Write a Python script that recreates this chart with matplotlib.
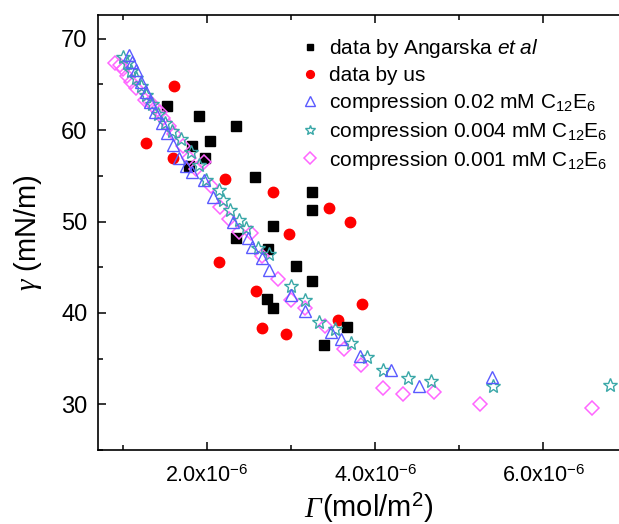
import numpy as np
import matplotlib
matplotlib.use("Agg")
import matplotlib.pyplot as plt
from matplotlib.ticker import MultipleLocator, FuncFormatter

plt.rcParams['font.family'] = ['Liberation Sans', 'DejaVu Sans']
plt.rcParams['mathtext.fontset'] = 'custom'
plt.rcParams['mathtext.rm'] = 'Liberation Sans'
plt.rcParams['mathtext.it'] = 'Liberation Serif:italic'
plt.rcParams['mathtext.sf'] = 'Liberation Sans:italic'

# ---- data (Gamma in units of 1e-6 mol/m^2, gamma in mN/m) ----
ang_x = [1.53, 1.90, 2.35, 2.03, 1.82, 1.98, 1.78, 2.57, 3.25, 3.25, 2.78, 2.35,
         2.73, 3.06, 3.25, 2.71, 2.79, 3.66, 3.39]
ang_y = [62.65, 61.6, 60.5, 58.8, 58.3, 57.0, 56.1, 54.9, 53.2, 51.25, 49.5, 48.2,
         47.0, 45.1, 43.5, 41.5, 40.5, 38.45, 36.45]

us_x = [1.61, 1.28, 1.59, 2.21, 2.78, 3.45, 3.70, 2.98, 2.14, 2.58, 3.84, 3.56, 2.65, 2.94]
us_y = [64.85, 58.55, 57.0, 54.7, 53.25, 51.45, 49.9, 48.6, 45.6, 42.4, 40.95, 39.2, 38.4, 37.7]

c02_x = [1.07, 1.11, 1.16, 1.22, 1.27, 1.32, 1.38, 1.46, 1.53, 1.60, 1.67, 1.75, 1.82,
         1.97, 2.07, 2.31, 2.49, 2.54, 2.65, 2.74, 3.00, 3.16, 3.47, 3.59, 3.82, 4.19,
         4.52, 5.39]
c02_y = [68.25, 67.5, 66.6, 65.3, 64.2, 63.1, 62.0, 60.75, 59.65, 58.4, 57.0, 56.1, 55.4,
         54.5, 52.7, 49.9, 48.15, 47.2, 46.0, 44.7, 42.0, 40.2, 37.9, 37.1, 35.25, 33.7,
         32.0, 33.0]

c004_x = [1.00, 1.05, 1.10, 1.15, 1.21, 1.28, 1.35, 1.42, 1.50, 1.58, 1.69, 1.81, 1.90,
          1.99, 2.14, 2.19, 2.27, 2.38, 2.46, 2.61, 2.74, 3.00, 3.17, 3.33, 3.52, 3.71,
          3.90, 4.09, 4.39, 4.67, 5.40, 6.79]
c004_y = [68.05, 67.3, 66.5, 65.7, 64.8, 63.9, 62.9, 61.8, 60.8, 59.9, 59.0, 57.65, 56.2,
          54.5, 53.4, 52.4, 51.25, 50.2, 49.25, 47.1, 46.4, 43.0, 41.4, 39.0, 38.2, 36.75,
          35.2, 33.8, 32.85, 32.5, 32.05, 32.1]

c001_x = [0.91, 0.96, 1.00, 1.05, 1.10, 1.16, 1.26, 1.32, 1.38, 1.44, 1.48, 1.55, 1.61,
          1.71, 1.79, 1.87, 1.96, 2.05, 2.16, 2.26, 2.38, 2.52, 2.66, 2.84, 3.00, 3.17,
          3.40, 3.63, 3.83, 4.09, 4.33, 4.70, 5.25, 6.58]
c001_y = [67.4, 67.15, 66.7, 65.95, 65.3, 64.6, 63.3, 63.1, 62.4, 62.0, 61.3, 60.4, 59.6,
          58.3, 56.9, 55.75, 56.5, 53.9, 51.55, 50.3, 48.9, 48.7, 46.25, 43.75, 41.4, 40.5,
          38.6, 36.0, 34.25, 31.8, 31.1, 31.3, 30.05, 29.6]

labels = ["data by Angarska $\\mathsf{et\\ al}$",
          "data by us",
          "compression 0.02 mM C$_{12}$E$_6$",
          "compression 0.004 mM C$_{12}$E$_6$",
          "compression 0.001 mM C$_{12}$E$_6$"]

scale = 1e-6

fig = plt.figure(figsize=(6.19, 5.24), dpi=100)
ax = fig.add_axes([97.7/619, 74/524, (627.4-97.7)/619, (450-15)/524])

ax.plot(np.array(c001_x)*scale, c001_y, linestyle='none', marker='D', ms=7.5,
        mfc='none', mec='#ff66ff', mew=1.1, label=labels[4], zorder=3)
ax.plot(np.array(c004_x)*scale, c004_y, linestyle='none', marker='*', ms=10,
        mfc='none', mec='#3aa8a8', mew=1.0, label=labels[3], zorder=4)
ax.plot(np.array(c02_x)*scale, c02_y, linestyle='none', marker='^', ms=9,
        mfc='none', mec='#5a5aff', mew=1.0, label=labels[2], zorder=5)
ax.plot(np.array(us_x)*scale, us_y, linestyle='none', marker='o', ms=7.5,
        mfc='#ff0000', mec='#ff0000', label=labels[1], zorder=2)
ax.plot(np.array(ang_x)*scale, ang_y, linestyle='none', marker='s', ms=6.5,
        mfc='black', mec='black', label=labels[0], zorder=2)

ax.set_xlim(0.7e-6, 7.0e-6)
ax.set_ylim(25, 72.6)
ax.xaxis.set_major_locator(MultipleLocator(2e-6))
ax.xaxis.set_minor_locator(MultipleLocator(1e-6))
ax.yaxis.set_major_locator(MultipleLocator(10))
ax.yaxis.set_minor_locator(MultipleLocator(5))

def xfmt(v, pos):
    return "%.1fx10$^{-6}$" % (v / 1e-6)
ax.xaxis.set_major_formatter(FuncFormatter(xfmt))

ax.tick_params(which='both', direction='in', top=True, right=True, width=1.1)
ax.tick_params(axis='y', labelsize=17, pad=7.5)
ax.tick_params(axis='x', labelsize=15.5, pad=11)
ax.tick_params(which='major', length=6)
ax.tick_params(which='minor', length=3.5)
for s in ax.spines.values():
    s.set_linewidth(1.2)

# y label
ax.set_ylabel("$\\mathit{\\gamma}$ (mN/m)", fontsize=21, labelpad=12)

# x label: italic Gamma + upright rest
fig.canvas.draw()
r = fig.canvas.get_renderer()
t1 = fig.text(0, 0, "\u0393", fontsize=21, family='Liberation Serif', style='italic',
              va='baseline', ha='left')
t2 = fig.text(0, 0, "(mol/m$^2$)", fontsize=21, va='baseline', ha='left')
w1 = t1.get_window_extent(r).width
w2 = t2.get_window_extent(r).width
cx = 368.0
x0 = cx - (w1 + w2) / 2
base_y = 524 - 517
t1.set_position((x0 / 619, base_y / 524))
t2.set_position(((x0 + w1 + 1) / 619, base_y / 524))

h, l = ax.get_legend_handles_labels()
order = [4, 3, 2, 1, 0]
leg = ax.legend([h[i] for i in order], [l[i] for i in order], loc='upper left',
                bbox_to_anchor=(287/619, 1 - 27/524), bbox_transform=fig.transFigure,
                frameon=False, fontsize=15, handletextpad=0.3, labelspacing=0.28,
                borderpad=0, handlelength=1.2, markerscale=0.75)

fig.savefig("out.png", dpi=100)
